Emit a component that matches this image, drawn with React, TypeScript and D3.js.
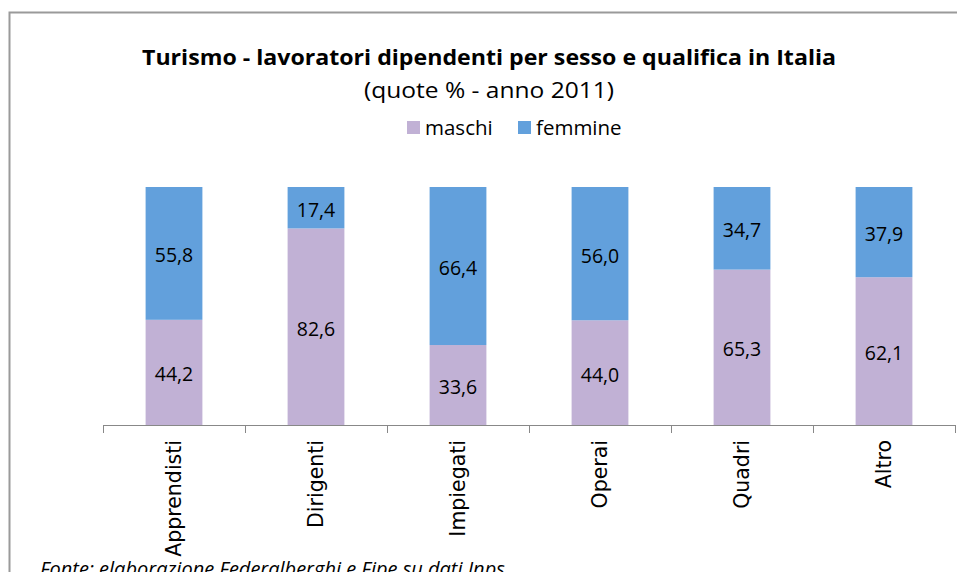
import React from "react";
import * as d3 from "d3";

const categories = ["Apprendisti", "Dirigenti", "Impiegati", "Operai", "Quadri", "Altro"];
const maschi = [44.2, 82.6, 33.6, 44.0, 65.3, 62.1];
const femmine = [55.8, 17.4, 66.4, 56.0, 34.7, 37.9];
const seriesNames = ["maschi", "femmine"];
const seriesColors = ["#C1B1D5", "#62A0DC"];
const title = "Turismo - lavoratori dipendenti per sesso e qualifica in Italia";
const subtitle = "(quote % - anno 2011)";
const source = "Fonte: elaborazione Federalberghi e Fipe su dati Inps";

const W = 957;
const H = 572;
const fmt = (v: number) => v.toFixed(1).replace(".", ",");
const FONT = "'Open Sans', 'Noto Sans', sans-serif";

export default function App() {
  const x = d3.scaleBand<string>().domain(categories).range([103, 955]).paddingInner(0.6).paddingOuter(0.3);
  const y = d3.scaleLinear().domain([0, 100]).range([425, 187]);
  const rows = categories.map((c, i) => ({ cat: c, maschi: maschi[i], femmine: femmine[i] }));
  const stack = d3.stack<any>().keys(seriesNames)(rows);
  const step = (955 - 103) / categories.length;

  return (
    <svg width={W} height={H} style={{ position: "absolute", left: 0, top: 0, background: "#fff" }}>
      <rect x={9.5} y={12.5} width={W + 20} height={H + 20} fill="#fff" stroke="#9a9a9a" strokeWidth={2} />
      <text x={489} y={65} textAnchor="middle" fontFamily={FONT} fontWeight="bold" fontSize={22} textLength={694} lengthAdjust="spacingAndGlyphs" fill="#000">{title}</text>
      <text x={489} y={98} textAnchor="middle" fontFamily={FONT} fontSize={22} textLength={250} lengthAdjust="spacingAndGlyphs" fill="#000">{subtitle}</text>
      {seriesNames.map((s, i) => {
        const lx = [407, 518][i];
        return (
          <g key={s}>
            <rect x={lx} y={121} width={13} height={13} fill={seriesColors[i]} />
            <text x={lx + 18} y={135} fontFamily={FONT} fontSize={20.5} fill="#000">{s}</text>
          </g>
        );
      })}
      {stack.map((layer, si) => (
        <g key={si}>
          {layer.map((d, i) => {
            const bx = x(categories[i])!;
            const y0 = y(d[1]);
            const y1 = y(d[0]);
            return (
              <g key={i}>
                <rect x={bx} y={y0} width={x.bandwidth()} height={y1 - y0} fill={seriesColors[si]} />
                <text x={bx + x.bandwidth() / 2} y={(y0 + y1) / 2 + 9} textAnchor="middle" fontFamily={FONT} fontSize={19.5} fill="#000">
                  {fmt(d[1] - d[0])}
                </text>
              </g>
            );
          })}
        </g>
      ))}
      <line x1={103} x2={955} y1={425.5} y2={425.5} stroke="#888" strokeWidth={1} />
      {d3.range(categories.length + 1).map((i) => (
        <line key={i} x1={103 + i * step + 0.5} x2={103 + i * step + 0.5} y1={425} y2={433} stroke="#888" strokeWidth={1} />
      ))}
      {categories.map((c) => {
        const cx = x(c)! + x.bandwidth() / 2 + 7;
        return (
          <text key={c} transform={`translate(${cx},440) rotate(-90)`} textAnchor="end" fontFamily="'DejaVu Sans', Verdana, sans-serif" fontSize={20.5} fill="#000">
            {c}
          </text>
        );
      })}
      <text x={40} y={576} fontFamily={FONT} fontStyle="italic" fontSize={20} fill="#000">{source}</text>
    </svg>
  );
}
